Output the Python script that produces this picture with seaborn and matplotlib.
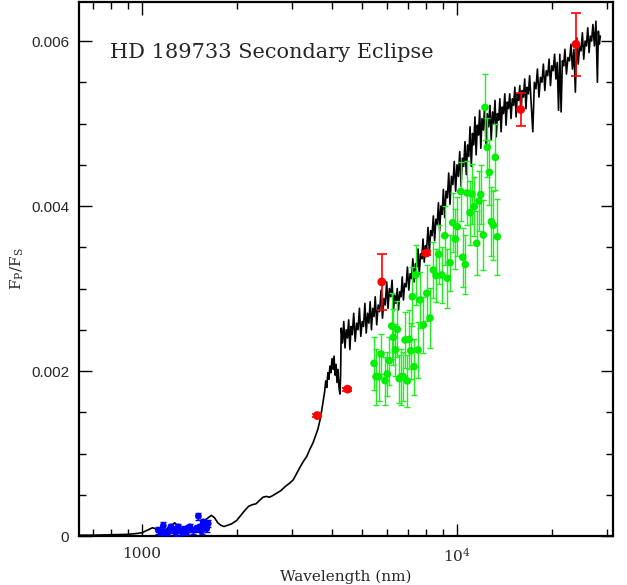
import numpy as np
import matplotlib
matplotlib.use("Agg")
import matplotlib.pyplot as plt
import matplotlib.ticker as mticker
import seaborn as sns
import pandas as pd

# ---------------- data ----------------
# model spectrum: wavelength (nm) and Fp/Fs in units of 1e-4
spec_wave = [630, 700, 800, 900, 960, 1000, 1040, 1080, 1100, 1130, 1160, 1200, 1240, 1270,
             1300, 1340, 1380, 1420, 1470, 1520, 1570, 1620, 1660, 1700, 1740, 1780, 1820,
             1870, 1930, 2000, 2060, 2120, 2180, 2240, 2300, 2360, 2420, 2480, 2540, 2600,
             2680, 2760, 2850, 2940, 3020, 3100, 3180, 3260, 3330, 3410, 3490, 3560, 3620,
             3680, 3740, 3800, 3830, 3860, 3890, 3920, 3950, 3980, 4010, 4040, 4070, 4100,
             4130, 4160, 4190, 4220, 4250, 4270,
             4290, 4330, 4370, 4410, 4450, 4490, 4530, 4570, 4610, 4650, 4700, 4750, 4800,
             4850, 4900, 4950, 5000, 5050, 5100, 5150, 5200, 5250, 5300, 5350, 5400, 5450,
             5500, 5560, 5620, 5680, 5740, 5800, 5860, 5920, 5980, 6040, 6100, 6160, 6220,
             6280, 6340, 6400, 6460, 6520, 6580, 6640, 6700, 6760, 6820, 6890, 6960, 7030,
             7100, 7170, 7240, 7310, 7380, 7450, 7520, 7590, 7660, 7730, 7800, 7870, 7940,
             8010, 8090, 8170, 8250, 8330, 8410, 8490, 8570, 8650, 8730, 8810, 8890, 8970,
             9050, 9140, 9230, 9320, 9410, 9500, 9600, 9700, 9800, 9900, 10000, 10100,
             10200, 10300, 10400, 10500, 10600, 10700, 10800, 10900, 11000, 11100, 11200,
             11300, 11400, 11500, 11600, 11700, 11800, 11900, 12000, 12120, 12240, 12360,
             12480, 12600, 12720, 12840, 12960, 13080, 13200, 13320, 13440, 13560, 13680,
             13800, 13920, 14050, 14180, 14310, 14440, 14570, 14700, 14840, 14980, 15120,
             15260, 15400, 15540, 15680, 15820, 15960, 16100, 16250, 16400, 16550, 16700,
             16850, 17000, 17200, 17400, 17600, 17800, 18000, 18200, 18400, 18600, 18800,
             19000, 19200, 19400, 19600, 19800, 20000, 20200, 20400, 20600, 20800, 21000,
             21200, 21400, 21600, 21800, 22000, 22250, 22500, 22750, 23000, 23250, 23500,
             23750, 24000, 24250, 24500, 24750, 25000, 25250, 25500, 25750, 26000, 26250,
             26500, 26750, 27000, 27300, 27600, 27900, 28100, 28300, 28500]
spec_flux_e4 = [0.1, 0.1, 0.15, 0.2, 0.3, 0.4, 0.7, 1.0, 0.9, 0.5, 0.4, 0.9, 1.3, 1.6,
                1.2, 0.8, 0.6, 0.7, 0.9, 1.3, 1.8, 2.2, 2.5, 2.2, 1.6, 1.3, 1.15,
                1.3, 1.5, 1.9, 2.5, 3.1, 3.6, 3.8, 3.9, 4.3, 4.7, 4.8, 4.7, 4.9,
                5.2, 5.5, 6.0, 6.4, 6.8, 7.6, 8.4, 9.1, 9.6, 10.5, 11.3, 12.2, 13.0,
                14.2, 15.8, 17.5, 18.8, 18.0, 19.8, 19.0, 20.6, 19.8, 21.5, 20.2, 21.8, 19.5,
                20.8, 18.6, 20.2, 18.0, 17.2, 19.5,
                25.2, 23.4, 26.0, 22.8, 25.0, 24.0, 26.2, 22.6, 25.4, 24.4, 27.0, 23.6, 25.8,
                25.0, 27.6, 24.2, 26.0, 25.4, 28.2, 24.6, 27.0, 25.8, 28.4, 25.0, 27.6, 26.6,
                29.0, 25.6, 28.0, 27.2, 29.8, 26.4, 28.8, 28.0, 30.8, 27.6, 30.0, 29.0, 31.0,
                27.2, 29.2, 28.2, 30.0, 27.4, 29.6, 29.0, 31.4, 28.6, 30.6, 30.2, 32.6, 29.8,
                31.8, 31.2, 33.6, 30.8, 33.0, 32.6, 34.8, 31.8, 34.2, 33.6, 36.0, 33.2, 35.2,
                34.8, 37.4, 34.4, 37.0, 36.4, 38.8, 35.8, 38.4, 37.8, 40.4, 37.0, 40.0, 39.0,
                42.0, 38.6, 41.8, 41.0, 44.0, 40.2, 43.6, 42.6, 45.4, 41.8, 45.0, 43.6,
                46.6, 42.4, 45.8, 44.8, 47.8, 43.8, 47.4, 46.0, 49.6, 44.8, 48.8,
                47.4, 50.8, 46.2, 49.8, 48.6, 51.6, 47.0, 50.6, 49.2, 52.2, 47.6,
                51.2, 49.6, 52.2, 48.0, 51.4, 50.0, 52.8, 48.4, 51.2, 50.4, 53.0,
                49.0, 52.0, 51.2, 53.6, 49.8, 52.6, 51.8, 53.6, 50.6, 53.0, 52.2,
                54.4, 50.8, 53.6, 52.8, 54.6, 51.2, 54.0, 53.2, 55.4, 51.8, 54.4,
                53.6, 55.8, 52.4, 49.0, 55.0, 54.2, 56.6, 53.2, 55.6, 55.0, 57.2,
                54.0, 56.4, 55.8, 57.8, 54.6, 57.0, 56.4, 58.4, 55.4, 57.4, 51.6,
                58.4, 51.4, 57.6, 57.0, 59.0, 56.0, 58.0, 57.6, 59.6, 56.6, 59.0,
                53.8, 60.4, 57.2, 59.4, 58.8, 61.0, 57.8, 60.0, 59.4, 61.6, 58.6,
                60.6, 60.0, 62.0, 59.4, 62.4, 55.0, 61.2, 59.6, 60.6]

# red photometric points: wavelength (nm), Fp/Fs, error
red_wave = [3600, 4490, 5770, 7990, 15920, 23860]
red_flux = [0.00146, 0.00178, 0.00308, 0.00343, 0.00517, 0.00596]
red_err = [0.00002, 0.00002, 0.00034, 0.00002, 0.00020, 0.00038]

# green spectroscopic points
green_wave = [5453, 5533, 5643, 5739, 5907, 6008, 6096, 6204, 6277, 6370, 6464, 6559,
              6656, 6754, 6839, 6955, 7042, 7130, 7214, 7304, 7395, 7521, 7632, 7818,
              8015, 8210, 8411, 8577, 8748, 8942, 9141, 9316, 9502, 9690, 9877, 10022,
              10274, 10425, 10625, 10758, 10997, 11159, 11348, 11549, 11745, 11892,
              12120, 12272, 12480, 12664, 12851, 13040, 13232, 13427]
green_flux = [0.002093, 0.001931, 0.001931, 0.002206, 0.001883, 0.001964, 0.002125,
              0.002545, 0.002408, 0.002255, 0.002505, 0.001907, 0.001931, 0.001931,
              0.002376, 0.001879, 0.002384, 0.002246, 0.002901, 0.002052, 0.003164,
              0.002255, 0.002861, 0.002558, 0.002942, 0.002642, 0.003224, 0.003155,
              0.003415, 0.003164, 0.003640, 0.003124, 0.003313, 0.003798, 0.003600,
              0.003749, 0.004176, 0.003378, 0.003291, 0.004158, 0.003919, 0.004145,
              0.003992, 0.003548, 0.004061, 0.004139, 0.003648, 0.005196, 0.004711,
              0.004408, 0.003810, 0.003766, 0.004590, 0.003628]
green_err = [0.00032, 0.00034, 0.00030, 0.00024, 0.00029, 0.00027, 0.00029, 0.00040,
             0.00034, 0.00032, 0.00034, 0.00029, 0.00034, 0.00030, 0.00034, 0.00032,
             0.00036, 0.00034, 0.00036, 0.00034, 0.00036, 0.00034, 0.00034, 0.00034,
             0.00034, 0.00036, 0.00034, 0.00032, 0.00036, 0.00034, 0.00036, 0.00036,
             0.00034, 0.00036, 0.00036, 0.00036, 0.00036, 0.00036, 0.00036, 0.00039,
             0.00039, 0.00036, 0.00036, 0.00039, 0.00036, 0.00036, 0.00042, 0.00040,
             0.00036, 0.00039, 0.00042, 0.00042, 0.00040, 0.00046]

# blue near-IR points
blue_wave = [1127, 1150, 1169, 1190, 1212, 1235, 1257, 1280, 1304, 1337, 1360, 1384,
             1400, 1420, 1455, 1490, 1510, 1528, 1545, 1565, 1585, 1604, 1623]
blue_flux = [0.00007, 0.00005, 0.000125, 0.00003, 0.00005, 0.00011, 0.00008, 0.00004,
             0.00011, 0.00005, 0.00008, 0.00001, 0.00009, 0.00011, 0.00007, 0.00009,
             0.00024, 0.00011, 0.00006, 0.00017, 0.00012, 0.00009, 0.00015]
blue_err = [0.00004] * len(blue_wave)

title_text = "HD 189733 Secondary Eclipse"
x_label = "Wavelength (nm)"
y_label = r"$\mathregular{F_P/F_S}$"
x_major = [1000, 10000]
x_major_labels = ["1000", r"$\mathregular{10^4}$"]
y_major = [0, 0.002, 0.004, 0.006]

# ---------------- plotting ----------------
sns.set_style("ticks")
plt.rcParams["font.family"] = ["DejaVu Serif"]
plt.rcParams["mathtext.fontset"] = "dejavuserif"

fig = plt.figure(figsize=(6.27, 5.85), dpi=100)
ax = fig.add_axes([79 / 627, 1 - 536 / 585, (613 - 79) / 627, (536 - 2) / 585])

spec = pd.DataFrame({"wave": spec_wave, "flux": np.array(spec_flux_e4) * 1e-4})
sns.lineplot(data=spec, x="wave", y="flux", ax=ax, color="black", lw=1.2,
             estimator=None, sort=False, zorder=2)

green = pd.DataFrame({"wave": green_wave, "flux": green_flux, "err": green_err})
ax.errorbar(green["wave"], green["flux"], yerr=green["err"], fmt="none",
            ecolor="#22ee22", elinewidth=1.0, capsize=2.5, capthick=1.0, zorder=3)
sns.scatterplot(data=green, x="wave", y="flux", ax=ax, color="#00ee00", s=30,
                edgecolor="none", zorder=4)

blue = pd.DataFrame({"wave": blue_wave, "flux": blue_flux, "err": blue_err})
ax.errorbar(blue["wave"], blue["flux"], yerr=blue["err"], fmt="none",
            ecolor="#0000ff", elinewidth=1.0, capsize=2.5, capthick=1.0, zorder=3)
sns.scatterplot(data=blue, x="wave", y="flux", ax=ax, color="#0000ff", s=24,
                edgecolor="none", zorder=4)

red = pd.DataFrame({"wave": red_wave, "flux": red_flux, "err": red_err})
ax.errorbar(red["wave"], red["flux"], yerr=red["err"], fmt="none",
            ecolor="#ff0000", elinewidth=1.2, capsize=3.5, capthick=1.2, zorder=5)
sns.scatterplot(data=red, x="wave", y="flux", ax=ax, color="#ff0000", s=40,
                edgecolor="none", zorder=6)

ax.set_xscale("log")
ax.set_xlim(631, 31270)
ax.set_ylim(0, 0.006473)

ax.xaxis.set_major_locator(mticker.FixedLocator(x_major))
ax.xaxis.set_major_formatter(mticker.FixedFormatter(x_major_labels))
ax.xaxis.set_minor_locator(mticker.LogLocator(base=10, subs=np.arange(2, 10)))
ax.xaxis.set_minor_formatter(mticker.NullFormatter())
ax.yaxis.set_major_locator(mticker.FixedLocator(y_major))
ax.yaxis.set_major_formatter(mticker.FuncFormatter(lambda v, p: f"{v:g}"))
ax.yaxis.set_minor_locator(mticker.MultipleLocator(0.0005))

ax.tick_params(which="both", direction="in", top=True, right=True, color="black")
ax.tick_params(which="major", length=9, width=1.0)
ax.tick_params(which="minor", length=5, width=1.0)
ax.tick_params(axis="x", which="major", pad=8, labelsize=11)
ax.tick_params(axis="y", which="major", pad=7, labelsize=11)
for lab in ax.get_yticklabels():
    lab.set_family("Liberation Sans")

for s in ax.spines.values():
    s.set_linewidth(1.6)
    s.set_color("black")

ax.set_xlabel(x_label, fontsize=11, labelpad=3)
ax.set_ylabel(y_label, fontsize=11, labelpad=4)
ax.text(0.058, 0.906, title_text, transform=ax.transAxes, fontsize=15,
        ha="left", va="center")

fig.savefig("out.png", dpi=100)
